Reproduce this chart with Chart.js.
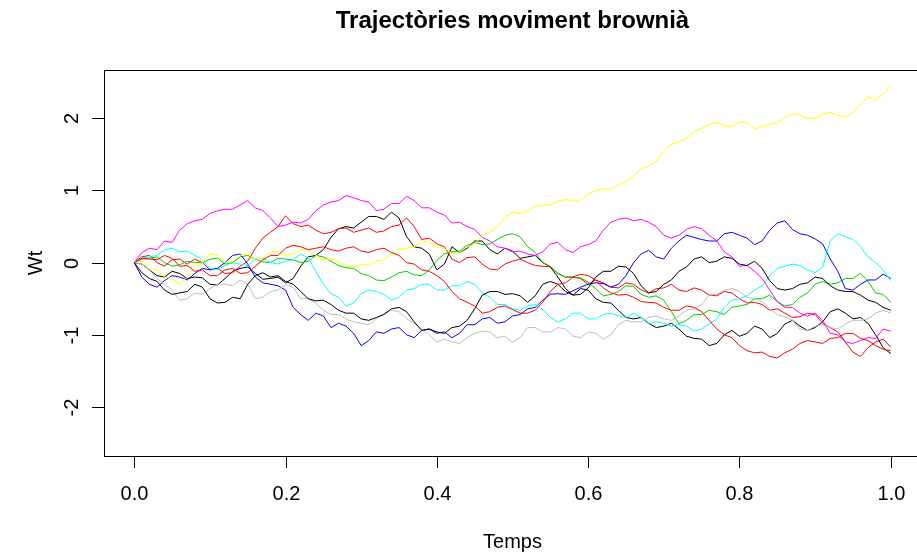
<!DOCTYPE html>
<html>
<head>
<meta charset="utf-8">
<script src="https://cdn.jsdelivr.net/npm/chart.js@4.4.1/dist/chart.umd.min.js"></script>
<style>
  html, body { margin: 0; padding: 0; background: #fff; overflow: hidden; }
  #wrap { position: relative; width: 930px; height: 552px; }
</style>
</head>
<body>
<div id="wrap"><canvas id="brownChart"></canvas></div>
<script>
// time grid (Temps)
const temps = [0.00, 0.01, 0.02, 0.03, 0.04, 0.05, 0.06, 0.07, 0.08, 0.09,
               0.10, 0.11, 0.12, 0.13, 0.14, 0.15, 0.16, 0.17, 0.18, 0.19,
               0.20, 0.21, 0.22, 0.23, 0.24, 0.25, 0.26, 0.27, 0.28, 0.29,
               0.30, 0.31, 0.32, 0.33, 0.34, 0.35, 0.36, 0.37, 0.38, 0.39,
               0.40, 0.41, 0.42, 0.43, 0.44, 0.45, 0.46, 0.47, 0.48, 0.49,
               0.50, 0.51, 0.52, 0.53, 0.54, 0.55, 0.56, 0.57, 0.58, 0.59,
               0.60, 0.61, 0.62, 0.63, 0.64, 0.65, 0.66, 0.67, 0.68, 0.69,
               0.70, 0.71, 0.72, 0.73, 0.74, 0.75, 0.76, 0.77, 0.78, 0.79,
               0.80, 0.81, 0.82, 0.83, 0.84, 0.85, 0.86, 0.87, 0.88, 0.89,
               0.90, 0.91, 0.92, 0.93, 0.94, 0.95, 0.96, 0.97, 0.98, 0.99, 1.00];

// trajectories (Wt)
const wtBlack1 = [0, -0.02, -0.10, -0.18, -0.20, -0.12, -0.15, -0.22, -0.20, -0.21,
                  -0.30, -0.31, -0.22, -0.12, -0.08, -0.06, -0.15, -0.23, -0.22, -0.20,
                  -0.28, -0.22, -0.05, 0.08, 0.10, 0.18, 0.35, 0.47, 0.50, 0.48,
                  0.56, 0.64, 0.64, 0.60, 0.70, 0.62, 0.36, 0.22, 0.20, 0.12,
                  -0.10, -0.02, 0.22, 0.14, 0.20, 0.30, 0.30, 0.18, 0.12, 0.20,
                  0.16, 0.06, 0.08, 0.10, 0.00, -0.06, -0.20, -0.36, -0.45, -0.36,
                  -0.38, -0.50, -0.55, -0.56, -0.66, -0.76, -0.78, -0.76, -0.84, -0.90,
                  -0.88, -0.84, -0.92, -1.02, -1.05, -1.06, -1.15, -1.12, -1.00, -0.94,
                  -1.02, -0.98, -0.88, -0.92, -1.04, -0.98, -0.85, -0.80, -0.88, -0.94,
                  -0.90, -0.82, -0.68, -0.64, -0.70, -0.78, -0.76, -0.84, -1.00, -1.18, -1.26];
const wtRed1 = [0, 0.08, 0.10, 0.00, -0.05, 0.04, 0.05, -0.02, 0.05, 0.00,
                -0.10, -0.08, -0.15, -0.14, -0.05, 0.02, 0.20, 0.34, 0.42, 0.50,
                0.65, 0.54, 0.50, 0.52, 0.45, 0.40, 0.42, 0.47, 0.48, 0.42,
                0.45, 0.48, 0.42, 0.44, 0.50, 0.52, 0.62, 0.50, 0.32, 0.34,
                0.26, 0.22, 0.05, 0.00, 0.07, 0.08, -0.02, -0.09, -0.10, -0.02,
                0.02, 0.05, 0.00, -0.04, -0.05, -0.06, -0.15, -0.20, -0.20, -0.22,
                -0.30, -0.24, -0.28, -0.34, -0.35, -0.28, -0.30, -0.38, -0.42, -0.36,
                -0.35, -0.30, -0.38, -0.40, -0.35, -0.38, -0.45, -0.46, -0.40, -0.42,
                -0.50, -0.56, -0.55, -0.58, -0.66, -0.64, -0.70, -0.76, -0.75, -0.70,
                -0.72, -0.84, -0.90, -0.96, -1.10, -1.24, -1.30, -1.18, -1.10, -1.06, -1.17];
const wtGreen = [0, 0.05, 0.06, 0.08, 0.00, -0.05, -0.03, 0.02, 0.00, 0.00,
                 0.05, 0.06, -0.02, 0.00, 0.08, 0.10, 0.05, 0.01, 0.00, 0.06,
                 0.05, 0.04, 0.00, 0.02, 0.10, 0.08, 0.02, -0.04, -0.07, -0.08,
                 -0.15, -0.18, -0.24, -0.25, -0.20, -0.14, -0.12, -0.17, -0.18, -0.10,
                 0.03, 0.12, 0.15, 0.16, 0.24, 0.28, 0.25, 0.26, 0.32, 0.38,
                 0.40, 0.36, 0.22, 0.14, 0.00, -0.05, -0.15, -0.20, -0.20, -0.21,
                 -0.27, -0.36, -0.46, -0.44, -0.40, -0.32, -0.33, -0.44, -0.48, -0.46,
                 -0.52, -0.68, -0.85, -0.80, -0.72, -0.72, -0.66, -0.68, -0.72, -0.62,
                 -0.60, -0.58, -0.50, -0.50, -0.45, -0.54, -0.60, -0.58, -0.48, -0.42,
                 -0.30, -0.26, -0.30, -0.28, -0.22, -0.22, -0.15, -0.26, -0.42, -0.44, -0.55];
const wtBlue = [0, -0.20, -0.30, -0.34, -0.25, -0.18, -0.20, -0.24, -0.15, -0.08,
                -0.10, -0.08, 0.00, 0.10, 0.12, -0.02, -0.20, -0.28, -0.30, -0.32,
                -0.38, -0.62, -0.72, -0.80, -0.70, -0.74, -0.90, -0.84, -0.88, -0.98,
                -1.15, -1.08, -0.96, -0.98, -0.92, -0.90, -1.00, -1.04, -0.94, -0.92,
                -0.98, -0.96, -1.04, -0.98, -0.86, -0.86, -0.78, -0.76, -0.84, -0.82,
                -0.74, -0.72, -0.64, -0.62, -0.52, -0.44, -0.43, -0.44, -0.39, -0.34,
                -0.30, -0.28, -0.29, -0.34, -0.30, -0.18, 0.00, 0.12, 0.17, 0.08,
                0.05, 0.20, 0.30, 0.38, 0.35, 0.32, 0.30, 0.30, 0.40, 0.42,
                0.38, 0.34, 0.25, 0.30, 0.45, 0.55, 0.58, 0.46, 0.40, 0.38,
                0.33, 0.26, 0.05, -0.12, -0.36, -0.38, -0.30, -0.24, -0.24, -0.16, -0.22];
const wtCyan = [0, 0.06, 0.08, 0.10, 0.18, 0.20, 0.15, 0.16, 0.10, 0.04,
                -0.08, -0.10, -0.04, 0.00, -0.02, -0.04, 0.05, 0.06, 0.00, -0.02,
                0.02, 0.04, 0.12, 0.06, -0.12, -0.30, -0.43, -0.48, -0.60, -0.56,
                -0.43, -0.38, -0.40, -0.44, -0.52, -0.48, -0.38, -0.36, -0.30, -0.30,
                -0.38, -0.38, -0.32, -0.32, -0.26, -0.30, -0.42, -0.48, -0.58, -0.58,
                -0.64, -0.66, -0.60, -0.58, -0.65, -0.76, -0.82, -0.78, -0.70, -0.70,
                -0.78, -0.78, -0.72, -0.70, -0.74, -0.76, -0.70, -0.76, -0.85, -0.82,
                -0.84, -0.88, -0.86, -0.88, -0.95, -0.92, -0.85, -0.78, -0.62, -0.52,
                -0.50, -0.46, -0.38, -0.32, -0.18, -0.08, -0.05, -0.02, -0.04, -0.10,
                -0.14, -0.06, 0.30, 0.40, 0.36, 0.32, 0.22, 0.08, 0.00, -0.10, -0.25];
const wtMagenta = [0, 0.14, 0.20, 0.18, 0.30, 0.28, 0.45, 0.54, 0.58, 0.60,
                   0.68, 0.72, 0.74, 0.74, 0.80, 0.86, 0.76, 0.72, 0.62, 0.50,
                   0.52, 0.56, 0.55, 0.60, 0.72, 0.80, 0.84, 0.86, 0.93, 0.90,
                   0.86, 0.84, 0.72, 0.74, 0.82, 0.82, 0.92, 0.86, 0.76, 0.76,
                   0.70, 0.66, 0.55, 0.56, 0.50, 0.46, 0.35, 0.30, 0.22, 0.20,
                   0.15, 0.16, 0.12, 0.10, 0.15, 0.26, 0.28, 0.18, 0.14, 0.22,
                   0.25, 0.30, 0.45, 0.56, 0.60, 0.62, 0.58, 0.60, 0.56, 0.50,
                   0.38, 0.34, 0.38, 0.46, 0.50, 0.47, 0.38, 0.30, 0.15, 0.08,
                   -0.05, -0.04, -0.12, -0.22, -0.38, -0.54, -0.62, -0.62, -0.70, -0.74,
                   -0.70, -0.80, -0.98, -1.00, -1.10, -1.12, -1.08, -1.04, -1.05, -0.92, -0.95];
const wtYellow = [0, 0.02, -0.08, -0.10, -0.20, -0.22, -0.30, -0.20, -0.05, 0.00,
                  0.12, 0.10, 0.00, 0.02, 0.10, 0.12, 0.05, 0.06, 0.15, 0.16,
                  0.10, 0.12, 0.18, 0.18, 0.10, 0.04, 0.05, 0.02, -0.05, -0.06,
                  -0.02, -0.04, 0.02, 0.04, 0.12, 0.18, 0.20, 0.22, 0.30, 0.28,
                  0.22, 0.20, 0.12, 0.14, 0.22, 0.26, 0.38, 0.42, 0.50, 0.62,
                  0.70, 0.68, 0.72, 0.78, 0.80, 0.80, 0.85, 0.88, 0.85, 0.86,
                  0.95, 1.00, 1.02, 1.02, 1.08, 1.12, 1.20, 1.30, 1.34, 1.40,
                  1.55, 1.64, 1.68, 1.72, 1.82, 1.86, 1.92, 1.94, 1.90, 1.88,
                  1.95, 1.94, 1.86, 1.88, 1.92, 1.94, 2.02, 2.06, 2.05, 2.00,
                  2.00, 2.06, 2.08, 2.04, 2.02, 2.08, 2.20, 2.30, 2.25, 2.34, 2.45];
const wtGray = [0, -0.02, -0.10, -0.22, -0.30, -0.38, -0.52, -0.50, -0.42, -0.44,
                -0.36, -0.30, -0.30, -0.32, -0.24, -0.30, -0.50, -0.48, -0.40, -0.38,
                -0.30, -0.34, -0.50, -0.50, -0.56, -0.66, -0.72, -0.72, -0.78, -0.82,
                -0.84, -0.86, -0.78, -0.70, -0.66, -0.68, -0.78, -0.84, -0.92, -1.00,
                -1.10, -1.06, -1.10, -1.12, -1.04, -0.98, -0.95, -0.96, -1.04, -1.02,
                -1.10, -1.04, -0.90, -0.90, -0.96, -0.96, -0.90, -0.92, -1.02, -1.04,
                -0.96, -0.98, -1.06, -1.00, -0.86, -0.80, -0.82, -0.82, -0.76, -0.74,
                -0.78, -0.80, -0.74, -0.66, -0.64, -0.58, -0.45, -0.44, -0.38, -0.36,
                -0.40, -0.48, -0.50, -0.54, -0.64, -0.72, -0.75, -0.80, -0.92, -0.94,
                -0.88, -0.86, -0.90, -0.92, -0.85, -0.80, -0.80, -0.78, -0.70, -0.66, -0.70];
const wtBlack2 = [0, -0.14, -0.22, -0.26, -0.38, -0.44, -0.42, -0.40, -0.30, -0.34,
                  -0.50, -0.56, -0.55, -0.48, -0.50, -0.30, -0.18, -0.14, -0.20, -0.18,
                  -0.26, -0.30, -0.40, -0.50, -0.53, -0.52, -0.58, -0.66, -0.70, -0.70,
                  -0.78, -0.80, -0.76, -0.72, -0.64, -0.62, -0.68, -0.82, -0.94, -0.92,
                  -0.96, -0.98, -0.90, -0.88, -0.80, -0.64, -0.45, -0.40, -0.40, -0.44,
                  -0.43, -0.46, -0.55, -0.46, -0.30, -0.26, -0.30, -0.40, -0.45, -0.44,
                  -0.35, -0.20, -0.12, -0.12, -0.05, -0.06, -0.15, -0.32, -0.42, -0.40,
                  -0.30, -0.24, -0.12, -0.06, 0.05, 0.08, 0.00, 0.02, 0.08, 0.06,
                  -0.02, -0.04, 0.02, -0.08, -0.25, -0.36, -0.38, -0.36, -0.30, -0.28,
                  -0.20, -0.22, -0.32, -0.38, -0.40, -0.40, -0.45, -0.52, -0.55, -0.62, -0.66];
const wtRed2 = [0, 0.06, 0.05, 0.04, 0.10, 0.06, -0.05, -0.04, -0.12, -0.10,
                -0.18, -0.18, -0.10, -0.08, -0.15, -0.14, -0.05, 0.04, 0.10, 0.10,
                0.20, 0.24, 0.22, 0.18, 0.20, 0.22, 0.18, 0.16, 0.20, 0.22,
                0.16, 0.14, 0.18, 0.20, 0.14, 0.10, 0.00, -0.02, -0.10, -0.12,
                -0.18, -0.26, -0.40, -0.50, -0.55, -0.60, -0.70, -0.68, -0.62, -0.60,
                -0.65, -0.70, -0.70, -0.66, -0.55, -0.40, -0.30, -0.28, -0.20, -0.16,
                -0.18, -0.24, -0.35, -0.42, -0.45, -0.44, -0.48, -0.54, -0.55, -0.56,
                -0.62, -0.66, -0.66, -0.60, -0.62, -0.68, -0.80, -0.92, -1.00, -1.04,
                -1.15, -1.22, -1.25, -1.24, -1.30, -1.32, -1.25, -1.20, -1.12, -1.08,
                -1.10, -1.12, -1.05, -1.04, -0.98, -0.98, -1.05, -1.08, -1.15, -1.20, -1.22];

const seriesList = [wtBlack1, wtRed1, wtGreen, wtBlue, wtCyan, wtMagenta, wtYellow, wtGray, wtBlack2, wtRed2];
const seriesColors = ["#000000", "#FF0000", "#00CD00", "#0000FF", "#00FFFF", "#FF00FF", "#FFFF00", "#BEBEBE", "#000000", "#FF0000"];

// axis ticks
const xTickValues = [0, 0.2, 0.4, 0.6, 0.8, 1.0];
const xTickLabels = ["0.0", "0.2", "0.4", "0.6", "0.8", "1.0"];
const yTickValues = [-2, -1, 0, 1, 2];
const yTickLabels = ["-2", "-1", "0", "1", "2"];

const titleText = "Trajectòries moviment brownià";
const xAxisTitle = "Temps";
const yAxisTitle = "Wt";

const baseFont = '"Liberation Sans", Arial, sans-serif';

// R-style box, ticks and labels, placed with the chart's own scales
const rAxesPlugin = {
    id: 'rAxes',
    afterDraw(chart) {
        const ctx = chart.ctx;
        const area = chart.chartArea;
        const xs = chart.scales.x;
        const ys = chart.scales.y;
        ctx.save();
        ctx.strokeStyle = '#000';
        ctx.fillStyle = '#000';
        ctx.lineWidth = 1;

        // box
        ctx.strokeRect(Math.round(area.left) + 0.5, Math.round(area.top) + 0.5,
                       Math.round(area.right - area.left), Math.round(area.bottom - area.top));

        // x axis ticks
        ctx.font = '20px ' + baseFont;
        ctx.textAlign = 'center';
        ctx.textBaseline = 'middle';
        xTickValues.forEach(function(v, i) {
            const px = Math.round(xs.getPixelForValue(v)) + 0.5;
            ctx.beginPath();
            ctx.moveTo(px, area.bottom);
            ctx.lineTo(px, area.bottom + 12);
            ctx.stroke();
            ctx.fillText(xTickLabels[i], px, area.bottom + 38);
        });

        // y axis ticks, labels turned like R
        yTickValues.forEach(function(v, i) {
            const py = Math.round(ys.getPixelForValue(v)) + 0.5;
            ctx.beginPath();
            ctx.moveTo(area.left, py);
            ctx.lineTo(area.left - 12, py);
            ctx.stroke();
            ctx.save();
            ctx.translate(area.left - 32, py);
            ctx.rotate(-Math.PI / 2);
            ctx.fillText(yTickLabels[i], 0, 0);
            ctx.restore();
        });

        // titles
        const midX = (area.left + area.right) / 2;
        ctx.fillText(xAxisTitle, midX, area.bottom + 86);
        ctx.save();
        ctx.translate(36, (area.top + area.bottom) / 2);
        ctx.rotate(-Math.PI / 2);
        ctx.fillText(yAxisTitle, 0, 0);
        ctx.restore();

        ctx.font = 'bold 24px ' + baseFont;
        ctx.fillText(titleText, midX, 21);
        ctx.restore();
    }
};

const datasets = seriesList.map(function(vals, i) {
    return {
        label: 'W' + (i + 1),
        data: temps.map(function(t, k) { return { x: t, y: vals[k] }; }),
        borderColor: seriesColors[i],
        borderWidth: 1,
        pointRadius: 0,
        tension: 0,
        fill: false,
        order: seriesList.length - i
    };
});

new Chart(document.getElementById('brownChart'), {
    type: 'line',
    data: { datasets: datasets },
    options: {
        responsive: true,
        maintainAspectRatio: false,
        animation: false,
        layout: { padding: { left: 104, top: 70, right: 9, bottom: 96 } },
        plugins: {
            legend: { display: false },
            tooltip: { enabled: false },
            title: { display: false }
        },
        scales: {
            x: { type: 'linear', min: -0.04, max: 1.04, display: false },
            y: { type: 'linear', min: -2.68, max: 2.67, display: false }
        }
    },
    plugins: [rAxesPlugin]
});
</script>
</body>
</html>
